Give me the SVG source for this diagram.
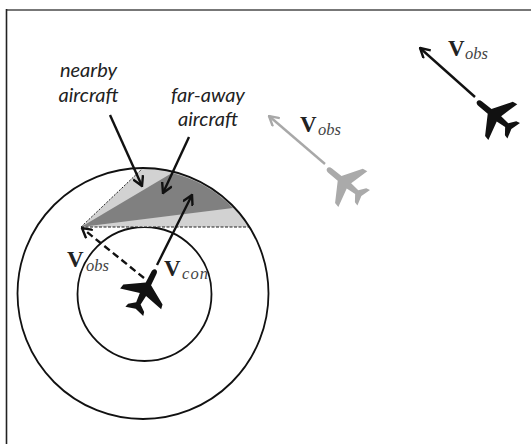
<svg xmlns="http://www.w3.org/2000/svg" width="531" height="444" viewBox="0 0 531 444">
<style>
.c{fill:none;stroke:#111;stroke-width:1.8}
.l{fill:none;stroke:#111;stroke-width:2.4}
.v{font-family:"Liberation Serif",serif;font-weight:bold;font-size:23px;fill:#222}
.s{font-family:"Liberation Serif",serif;font-style:italic;font-size:16.5px;fill:#444}
.t{font-family:Lato,"Liberation Sans",sans-serif;font-style:italic;font-size:20px;fill:#222;text-anchor:middle}
</style>
<defs>
<marker id="a" viewBox="0 0 10 10" refX="9" refY="5" markerWidth="5" markerHeight="5" orient="auto"><path d="M1 0.5L9 5L1 9.5" fill="none" stroke="#111" stroke-width="2"/></marker>
<marker id="g" viewBox="0 0 10 10" refX="9" refY="5" markerWidth="5" markerHeight="5" orient="auto"><path d="M1 0.5L9 5L1 9.5" fill="none" stroke="#a8a8a8" stroke-width="2"/></marker>
<path id="p" d="M0-25C2-25 2.8-23 2.8-21L3-9L22 3L23 8L3.5 3L2.5 13L9 18L10 22L0 19L-10 22L-9 18L-2.5 13L-3.5 3L-23 8L-22 3L-3-9L-2.8-21C-2.8-23-2-25 0-25Z"/>
</defs>
<g id="frame">
<path d="M6 10H531" fill="none" stroke="#777" stroke-width="2"/>
<path d="M6.5 9V444" fill="none" stroke="#222" stroke-width="1.6"/>
</g>
<g id="inner-circle"><circle class="c" cx="144.5" cy="294" r="67"/></g>
<g id="sector">
<path d="M81 227L143 168A125.500 125.500 0 0 1 250 227Z" fill="#d2d2d2"/>
<path d="M81 227L172 173A125.500 125.500 0 0 1 233 208Z" fill="#808080"/>
<path d="M81 227L143 168" fill="none" stroke="#222" stroke-width="1" stroke-dasharray="2 1.500"/>
<path d="M81 227H250" fill="none" stroke="#222" stroke-width="1" stroke-dasharray="3 1.500"/>
</g>
<g id="outer-circle"><circle class="c" cx="143" cy="293.500" r="125.500"/></g>
<g id="connectors">
<path class="l" d="M110 115L142 186" marker-end="url(#a)"/>
<path class="l" d="M189 137L163 193" marker-end="url(#a)"/>
<path class="l" d="M157 265L192 195" marker-end="url(#a)"/>
<path class="l" stroke-dasharray="7 4" d="M144 278L82 228" marker-end="url(#a)"/>
<path d="M325 164L269 116" fill="none" stroke="#a8a8a8" stroke-width="2.400" marker-end="url(#g)"/>
<path class="l" d="M475 97L420 48" marker-end="url(#a)"/>
</g>
<g id="plane-main"><use href="#p" transform="translate(144.300 291.800) rotate(27)" fill="#111"/></g>
<g id="plane-grey"><use href="#p" transform="translate(346.600 184) rotate(-51)" fill="#aaa"/></g>
<g id="plane-black"><use href="#p" transform="translate(496.600 117) rotate(-51)" fill="#111"/></g>
<g id="labels">
<text class="t" x="88.500" y="77">nearby</text>
<text class="t" x="88.500" y="102">aircraft</text>
<text class="t" x="208" y="102">far-away</text>
<text class="t" x="208" y="126">aircraft</text>
<text class="v" x="67" y="267">V</text><text class="s" x="86" y="271">obs</text>
<text class="v" x="164" y="276">V</text><text class="s" x="182" y="279" textLength="26">con</text>
<text class="v" x="300" y="132">V</text><text class="s" x="318" y="135">obs</text>
<text class="v" x="448" y="56">V</text><text class="s" x="465" y="59">obs</text>
</g>
</svg>
